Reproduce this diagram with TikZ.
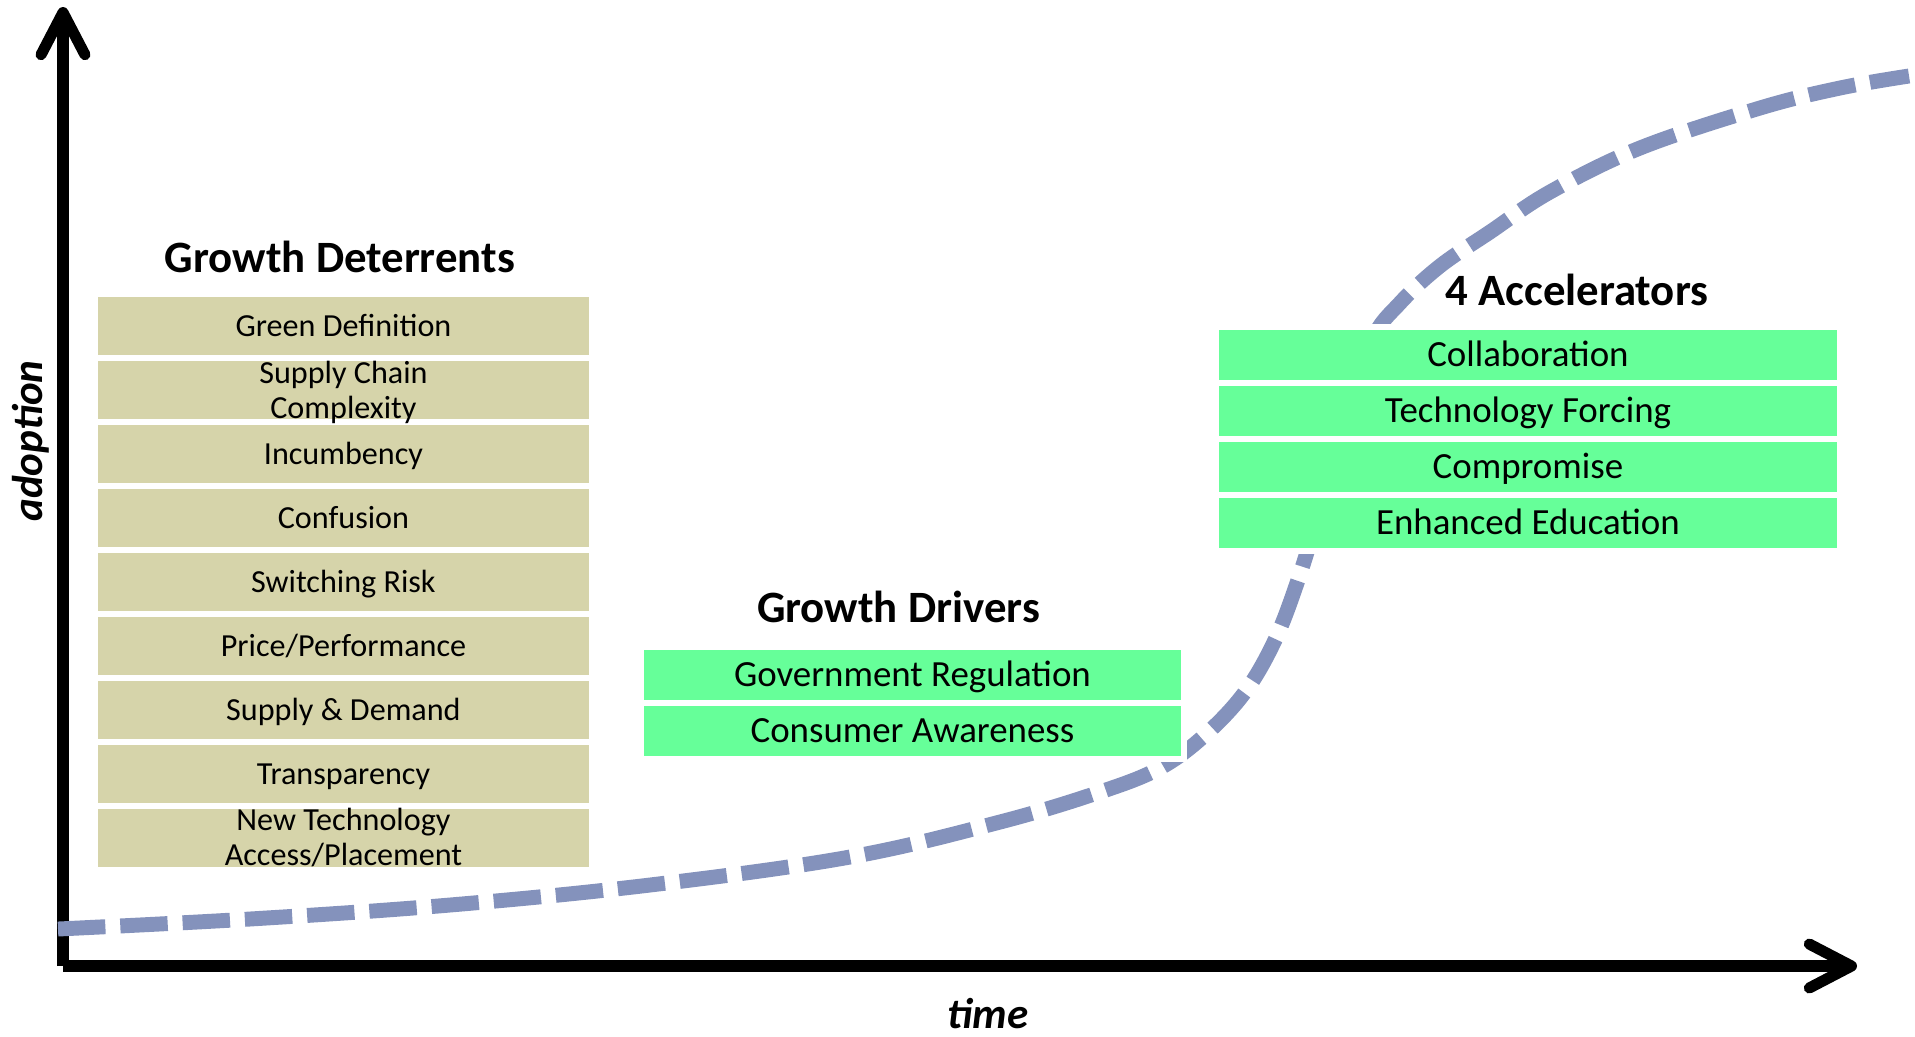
\documentclass[tikz,border=0pt]{standalone}
\usepackage{fontspec}
\setmainfont{Carlito}
\usetikzlibrary{positioning,arrows.meta}

\definecolor{deterfill}{RGB}{214,212,170}
\definecolor{drivefill}{RGB}{102,255,153}
\definecolor{curveblue}{RGB}{132,146,188}

\begin{document}
\begin{tikzpicture}[x=0.02cm, y=-0.02cm,
  deterrent/.style={rectangle, fill=deterfill, inner sep=0pt, outer sep=0pt,
                    minimum width=9.82cm, minimum height=1.16cm,
                    text height=14.5pt, text depth=2.7pt,
                    font=\fontsize{18.3}{20}\selectfont},
  deterlines/.style={inner sep=0pt, align=center, font=\fontsize{18.3}{19.9}\selectfont},
  driver/.style={rectangle, fill=drivefill, draw=white, line width=0.12cm,
                 inner sep=0pt, outer sep=0pt,
                 minimum height=1.12cm, text height=16pt, text depth=2.5pt,
                 font=\fontsize{21}{24}\selectfont},
  heading/.style={inner sep=0pt, font=\fontsize{25.5}{30}\selectfont\bfseries},
  axislabel/.style={inner sep=0pt, font=\fontsize{24.5}{28}\selectfont\bfseries\itshape},
  axis/.style={line width=6.3pt, -{Straight Barb[length=24pt, width=25pt, round]}},
  scurve/.style={line width=8.5pt, draw=curveblue, dash pattern=on 27pt off 8.5pt}
]
\useasboundingbox (0,0) rectangle (1915,1036);

% ==========================================================
% Axes and adoption curve
% ==========================================================
\coordinate (Origin) at (63,966);
\coordinate (YTip) at (63,7);
\coordinate (XTip) at (1857,966);
\draw[axis] (Origin) -- (YTip);
\draw[axis] (Origin) -- (XTip);

\draw[scurve] plot[smooth, tension=0.6] coordinates {
  (58,929) (250,919) (450,905) (650,885) (850,857) (1000,822) (1100,792)
  (1160,768) (1205,735) (1245,692) (1275,640) (1298,580) (1318,515)
  (1345,420) (1372,340) (1400,303) (1440,266) (1490,232) (1550,192)
  (1640,148) (1760,108) (1840,88) (1909,76)};

\node[axislabel, rotate=90] (Adoption) at (31,441) {adoption};
\node[axislabel] (Time) at (988,1014) {time};

% ==========================================================
% Growth deterrents
% ==========================================================
\node[deterrent, anchor=north west] (Definition) at (98,297) {Green Definition};
\node[deterrent, below=0.12cm of Definition] (SupplyChain) {};
\node[deterlines, yshift=-0.05cm] (SupplyChainText) at (SupplyChain) {Supply Chain\\Complexity};
\node[deterrent, below=0.12cm of SupplyChain] (Incumbency) {Incumbency};
\node[deterrent, below=0.12cm of Incumbency] (Confusion) {Confusion};
\node[deterrent, below=0.12cm of Confusion] (Switching) {Switching Risk};
\node[deterrent, below=0.12cm of Switching] (PricePerf) {Price/Performance};
\node[deterrent, below=0.12cm of PricePerf] (SupplyDemand) {Supply \& Demand};
\node[deterrent, below=0.12cm of SupplyDemand] (Transparency) {Transparency};
\node[deterrent, below=0.12cm of Transparency] (NewTech) {};
\node[deterlines] (NewTechText) at (NewTech) {New Technology\\Access/Placement};

\node[heading, above=0.47cm of Definition, xshift=-0.07cm] (DeterTitle) {Growth Deterrents};

% ==========================================================
% Growth drivers
% ==========================================================
\node[driver, minimum width=10.86cm, anchor=north west] (Regulation) at (641,647) {Government Regulation};
\node[driver, minimum width=10.86cm, below=0cm of Regulation] (Awareness) {Consumer Awareness};

\node[heading, above=0.48cm of Regulation, xshift=-0.28cm] (DriverTitle) {Growth Drivers};

% ==========================================================
% Accelerators
% ==========================================================
\node[driver, minimum width=12.48cm, anchor=north west] (Collaboration) at (1216,327) {Collaboration};
\node[driver, minimum width=12.48cm, below=0cm of Collaboration] (Forcing) {Technology Forcing};
\node[driver, minimum width=12.48cm, below=0cm of Forcing] (Compromise) {Compromise};
\node[driver, minimum width=12.48cm, below=0cm of Compromise] (Education) {Enhanced Education};

\node[heading, above=0.42cm of Collaboration, xshift=0.98cm] (AccelTitle) {4 Accelerators};

\end{tikzpicture}
\end{document}
